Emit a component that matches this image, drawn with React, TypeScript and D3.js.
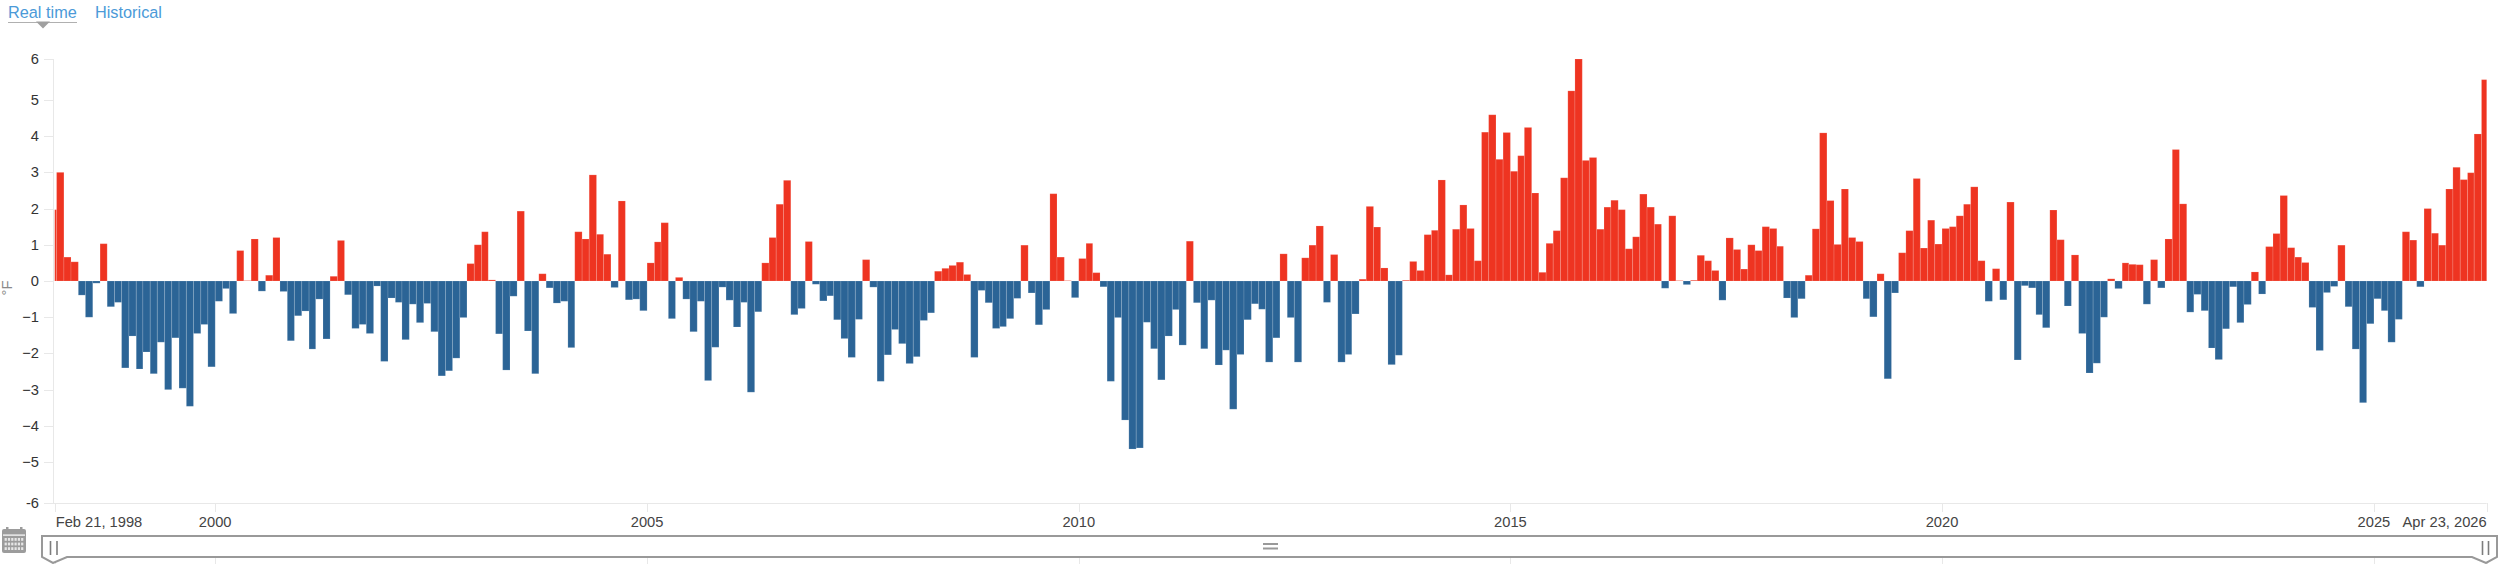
import React from "react";
import * as d3 from "d3";

const FONT = '"Liberation Sans", Arial, sans-serif';

const startDate = new Date(Date.UTC(1998, 1, 21));
const endDate = new Date(Date.UTC(2026, 3, 23));
const firstMonth = new Date(Date.UTC(1998, 1, 1));

const anomalies = [
  1.97, 3.0, 0.66, 0.53, -0.39, -1.0, -0.06, 1.03, -0.71, -0.59, -2.4, -1.52, -2.43, -1.96, -2.56, -1.69, -3.0, -1.57, -2.96, -3.46,
  -1.45, -1.2, -2.37, -0.56, -0.21, -0.9, 0.84, 0.01, 1.16, -0.28, 0.16, 1.2, -0.29, -1.65, -0.96, -0.83, -1.88, -0.5, -1.6, 0.13,
  1.12, -0.38, -1.31, -1.2, -1.45, -0.14, -2.22, -0.47, -0.59, -1.62, -0.64, -1.15, -0.62, -1.4, -2.62, -2.48, -2.13, -1.01, 0.48, 1.0,
  1.36, 0.03, -1.46, -2.46, -0.42, 1.93, -1.38, -2.56, 0.2, -0.19, -0.61, -0.56, -1.84, 1.36, 1.16, 2.93, 1.29, 0.74, -0.18, 2.21,
  -0.52, -0.5, -0.82, 0.5, 1.08, 1.61, -1.04, 0.1, -0.5, -1.4, -0.56, -2.75, -1.83, -0.17, -0.53, -1.27, -0.59, -3.07, -0.85, 0.5,
  1.2, 2.12, 2.78, -0.93, -0.76, 1.09, -0.09, -0.55, -0.41, -1.07, -1.59, -2.11, -1.06, 0.59, -0.17, -2.77, -2.04, -1.34, -1.73, -2.28,
  -2.09, -1.09, -0.88, 0.27, 0.35, 0.43, 0.52, 0.18, -2.11, -0.26, -0.6, -1.31, -1.26, -1.04, -0.48, 0.99, -0.33, -1.21, -0.79, 2.41,
  0.66, 0.01, -0.46, 0.62, 1.04, 0.23, -0.16, -2.77, -1.01, -3.84, -4.64, -4.61, -1.14, -1.87, -2.73, -1.52, -0.79, -1.77, 1.1, -0.6,
  -1.87, -0.53, -2.32, -1.91, -3.54, -2.03, -1.07, -0.63, -0.78, -2.24, -1.57, 0.75, -1.01, -2.24, 0.64, 0.99, 1.52, -0.59, 0.73, -2.24,
  -2.03, -0.91, 0.05, 2.06, 1.49, 0.36, -2.31, -2.05, 0.02, 0.54, 0.29, 1.28, 1.4, 2.79, 0.17, 1.43, 2.1, 1.45, 0.56, 4.11,
  4.59, 3.36, 4.1, 3.03, 3.46, 4.24, 2.43, 0.24, 1.04, 1.39, 2.85, 5.25, 6.13, 3.33, 3.41, 1.43, 2.04, 2.23, 1.97, 0.89,
  1.22, 2.4, 2.04, 1.57, -0.2, 1.8, 0.01, -0.1, 0.02, 0.71, 0.56, 0.29, -0.53, 1.19, 0.87, 0.33, 1.0, 0.84, 1.5, 1.45,
  0.96, -0.47, -1.01, -0.49, 0.16, 1.44, 4.09, 2.22, 1.01, 2.54, 1.2, 1.09, -0.49, -0.99, 0.2, -2.7, -0.33, 0.78, 1.39, 2.83,
  0.91, 1.68, 1.02, 1.45, 1.5, 1.8, 2.12, 2.6, 0.56, -0.56, 0.34, -0.52, 2.18, -2.18, -0.13, -0.19, -0.93, -1.29, 1.96, 1.14,
  -0.69, 0.72, -1.45, -2.54, -2.27, -1.0, 0.06, -0.21, 0.5, 0.46, 0.45, -0.64, 0.59, -0.19, 1.16, 3.63, 2.13, -0.86, -0.37, -0.82,
  -1.85, -2.17, -1.32, -0.16, -1.15, -0.65, 0.25, -0.36, 0.95, 1.31, 2.36, 0.92, 0.66, 0.51, -0.73, -1.92, -0.32, -0.15, 0.99, -0.71,
  -1.88, -3.36, -1.18, -0.49, -0.82, -1.69, -1.06, 1.36, 1.13, -0.16, 2.0, 1.32, 0.99, 2.54, 3.14, 2.8, 2.99, 4.06, 5.56,
];

const yMax = 6.13;
const yTicks = [yMax, 5, 4, 3, 2, 1, 0, -1, -2, -3, -4, -5, -yMax];
const yTickLabels = ["6", "5", "4", "3", "2", "1", "0", "−1", "−2", "−3", "−4", "−5", "-6"];
const xYears = [2000, 2005, 2010, 2015, 2020, 2025];
const startLabel = "Feb 21, 1998";
const endLabel = "Apr 23, 2026";
const tabs = ["Real time", "Historical"];

const x = d3.scaleUtc().domain([startDate, endDate]).range([54.7, 2486.7]);
const y = d3.scaleLinear().domain([-yMax, yMax]).range([503, 59]);

const RED = "#ee3421";
const BLUE = "#2b6496";
const AXIS = "#e8e8e8";
const NAV = "#999999";

const bars = anomalies.map((value, i) => {
  const a = d3.utcMonth.offset(firstMonth, i);
  const b = d3.utcMonth.offset(firstMonth, i + 1);
  const x0 = Math.max(x(a), x(startDate));
  const x1 = Math.min(x(b), x(endDate));
  return { value, x0, x1 };
});

function Calendar() {
  const cols = d3.range(6);
  const rows = d3.range(3);
  return (
    <g fill="#9c9c9c">
      <rect x={2} y={529} width={24} height={24} rx={2} />
      <rect x={6} y={527} width={2.5} height={4} />
      <rect x={20} y={527} width={2.5} height={4} />
      <rect x={3} y={534.5} width={22} height={1.2} fill="#fff" />
      {rows.map((r) =>
        cols.map((c) => (
          <rect key={`${r}-${c}`} x={4.6 + c * 3.3} y={538 + r * 4.6} width={2.2} height={2.8} fill="#e6e6e6" />
        ))
      )}
    </g>
  );
}

export default function App() {
  return (
    <svg
      width={2500}
      height={564}
      viewBox="0 0 2500 564"
      style={{ position: "absolute", left: 0, top: 0, display: "block", fontFamily: FONT }}
    >
      <rect width={2500} height={564} fill="#fff" />

      {/* range tabs */}
      <text x={8} y={18} fontSize={16.3} fill="#4b9ad8">{tabs[0]}</text>
      <text x={95} y={18} fontSize={16.3} fill="#4b9ad8">{tabs[1]}</text>
      <line x1={8} x2={77} y1={22.5} y2={22.5} stroke="#b0b0b0" strokeWidth={1} />
      <path d="M36,21.5 L50,21.5 L43,28.5 Z" fill="#a0a0a0" />

      {/* y axis */}
      <line x1={53.5} x2={53.5} y1={y(yMax)} y2={y(-yMax)} stroke={AXIS} strokeWidth={1} />
      {yTicks.map((t, i) => (
        <g key={i}>
          <line x1={44} x2={53.5} y1={Math.round(y(t)) + 0.5} y2={Math.round(y(t)) + 0.5} stroke={AXIS} strokeWidth={1} />
          <text x={39} y={y(t) + 5} textAnchor="end" fontSize={14.7} fill="#333">
            {yTickLabels[i]}
          </text>
        </g>
      ))}
      <text
        transform="translate(12,288) rotate(-90)"
        textAnchor="middle"
        fontSize={14.7}
        fill="#8a8a8a"
      >
        °F
      </text>

      {/* x axis */}
      <line x1={53} x2={x(endDate)} y1={503.5} y2={503.5} stroke={AXIS} strokeWidth={1} />
      {[startDate, ...xYears.map((yr) => new Date(Date.UTC(yr, 0, 1))), endDate].map((d, i) => (
        <g key={i}>
          <line x1={Math.round(x(d)) + 0.5} x2={Math.round(x(d)) + 0.5} y1={503} y2={512} stroke={AXIS} strokeWidth={1} />
          <line x1={Math.round(x(d)) + 0.5} x2={Math.round(x(d)) + 0.5} y1={558} y2={564} stroke={AXIS} strokeWidth={1} />
        </g>
      ))}
      <text x={x(startDate) + 1} y={527} fontSize={14.7} fill="#444">{startLabel}</text>
      {xYears.map((yr) => (
        <text key={yr} x={x(new Date(Date.UTC(yr, 0, 1)))} y={527} textAnchor="middle" fontSize={14.7} fill="#444">
          {yr}
        </text>
      ))}
      <text x={x(endDate)} y={527} textAnchor="end" fontSize={14.7} fill="#444">{endLabel}</text>

      {/* bars */}
      <g>
        {bars.map((b, i) => {
          const y0 = y(Math.max(b.value, 0));
          const y1 = y(Math.min(b.value, 0));
          return (
            <rect
              key={i}
              x={b.x0}
              y={y0}
              width={Math.max(0, b.x1 - b.x0)}
              height={y1 - y0}
              fill={b.value >= 0 ? RED : BLUE}
              stroke="#fff"
              strokeOpacity={0.14}
              strokeWidth={1}
            />
          );
        })}
      </g>

      {/* navigator */}
      <Calendar />
      <path
        d="M42,536 L2497,536 L2497,557 L2486,563 L2472,557 L67,557 L53,563 L42,557 Z"
        fill="#fff"
        stroke={NAV}
        strokeWidth={2}
      />
      <path d="M50.5,541 V555 M57,541 V555 M2482.5,541 V555 M2488.5,541 V555" stroke="#7d7d7d" strokeWidth={1.6} fill="none" />
      <path d="M1263,544 H1278 M1263,548.5 H1278" stroke={NAV} strokeWidth={2} fill="none" />
    </svg>
  );
}
